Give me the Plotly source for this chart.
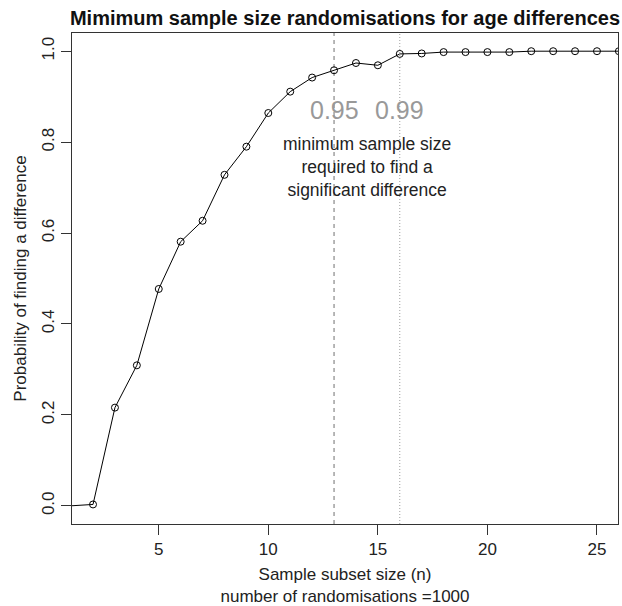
import plotly.graph_objects as go

# ---- data ----
sample_size = [1, 2, 3, 4, 5, 6, 7, 8, 9, 10, 11, 12, 13, 14, 15, 16, 17, 18, 19, 20, 21, 22, 23, 24, 25, 26]
probability = [0.0, 0.003, 0.216, 0.309, 0.477, 0.581, 0.627, 0.728, 0.790, 0.864, 0.911, 0.942, 0.958,
               0.974, 0.969, 0.994, 0.995, 0.998, 0.998, 0.998, 0.998, 1.0, 1.0, 1.0, 1.0, 1.0]
threshold_n = [13, 16]
threshold_labels = ["0.95", "0.99"]
x_ticks = [5, 10, 15, 20, 25]
y_ticks = [0.0, 0.2, 0.4, 0.6, 0.8, 1.0]

FONT = "Liberation Sans, Arial, Helvetica, sans-serif"

fig = go.Figure()
# line through all points
fig.add_trace(go.Scatter(
    x=sample_size, y=probability, mode="lines",
    line=dict(color="black", width=1), cliponaxis=True, showlegend=False,
))
# open circle markers (first point lies outside the visible region)
fig.add_trace(go.Scatter(
    x=sample_size[1:], y=probability[1:], mode="markers",
    marker=dict(symbol="circle-open", size=7, color="black", line=dict(width=1, color="black")),
    cliponaxis=True, showlegend=False,
))

dashes = ["4px,4px", "1px,2px"]
line_cols = ["#707070", "#a0a0a0"]
for xv, d, c in zip(threshold_n, dashes, line_cols):
    fig.add_shape(type="line", xref="x", yref="paper", x0=xv, x1=xv, y0=0, y1=1,
                  line=dict(color=c, width=1, dash=d), layer="below")

for xv, lab in zip(threshold_n, threshold_labels):
    fig.add_annotation(x=xv, y=0.871, xref="x", yref="y", text=lab, showarrow=False,
                       font=dict(family=FONT, size=25, color="#999999"))

fig.add_annotation(x=(threshold_n[0] + threshold_n[1]) / 2, y=0.746, xref="x", yref="y",
                   text="minimum sample size<br>required to find a<br>significant difference",
                   showarrow=False, font=dict(family=FONT, size=17.5, color="#222222"))

fig.update_layout(
    width=622, height=606,
    margin=dict(l=72, r=3, t=33, b=80),
    paper_bgcolor="white", plot_bgcolor="white",
    font=dict(family=FONT, size=17, color="#222222"),
    title=dict(text="<b>Mimimum sample size randomisations for age differences</b>",
               font=dict(family=FONT, size=20, color="#111111"),
               x=0.5, xref="paper", xanchor="center", y=1 - 18 / 606, yanchor="middle"),
)
fig.update_xaxes(
    range=[1.04, 25.96], tickmode="array", tickvals=x_ticks,
    ticks="outside", ticklen=10, tickcolor="#333", tickwidth=1,
    showline=True, linecolor="#333", linewidth=1, mirror=True,
    showgrid=False, zeroline=False,
    tickfont=dict(family=FONT, size=17, color="#222"),
    title=dict(text="Sample subset size (n)<br>number of randomisations =1000",
               font=dict(family=FONT, size=17, color="#222"), standoff=10),
)
fig.update_yaxes(
    range=[-0.04, 1.04], tickmode="array", tickvals=y_ticks, tickformat=".1f",
    ticks="outside", ticklen=10, tickcolor="#333", tickwidth=1, tickangle=-90,
    showline=True, linecolor="#333", linewidth=1, mirror=True,
    showgrid=False, zeroline=False,
    tickfont=dict(family=FONT, size=17, color="#222"),
    title=dict(text="Probability of finding a difference",
               font=dict(family=FONT, size=17, color="#222"), standoff=8),
)

fig.write_html("out.html")
